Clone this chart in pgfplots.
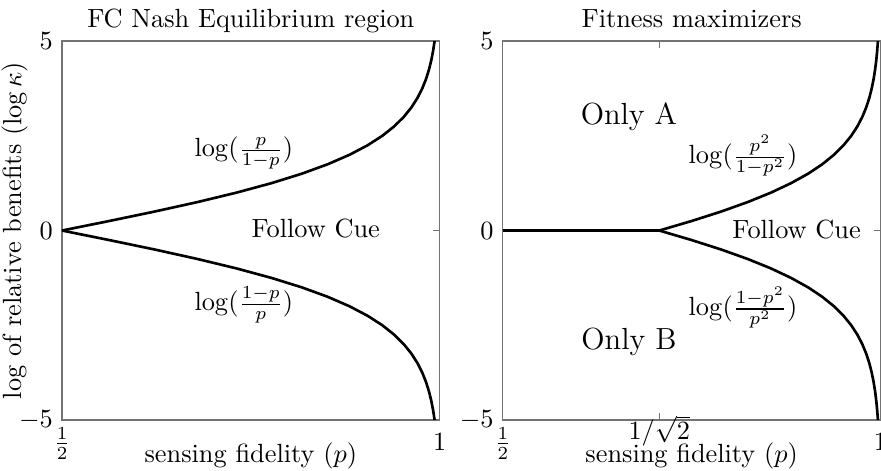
\documentclass[border=0pt]{standalone}
\usepackage{pgfplots}
\pgfplotsset{compat=1.18}
\begin{document}
\begin{tikzpicture}
\pgfplotsset{
  curve/.style={black, line width=1pt, mark=none},
  panel/.style={
    anchor=south west,
    width=143.5pt, height=144pt, scale only axis,
    xmin=0.5, xmax=1, ymin=-5, ymax=5,
    enlargelimits=false,
    axis line style={black!55, line width=0.5pt},
    tick style={black!55, line width=0.4pt},
    major tick length=2.5pt,
    ytick={-5,0,5},
    yticklabels={$-5$,$0$,$5$},
    title style={anchor=base, yshift=-1pt},
    xlabel style={at={(axis description cs:0.5,0)}, anchor=base, yshift=-16.2pt},
    xticklabel style={anchor=base, yshift=-11.4pt},
    clip=false,
  },
}
\begin{axis}[panel, name=L, at={(0,0)},
  title={FC Nash Equilibrium region},
  xlabel={sensing fidelity ($p$)},
  ylabel={log of relative benefits ($\log\kappa$)},
  ylabel style={at={(axis description cs:-0.125,0.5)}, anchor=center},
  xtick={0.5,1}, xticklabels={$\frac{1}{2}$,$1$},
]
\addplot[curve] table[row sep=\\] {
x y\\
0.50000 0\\ 0.56218 0.25\\ 0.62246 0.5\\ 0.67918 0.75\\ 0.73106 1\\
0.77730 1.25\\ 0.81757 1.5\\ 0.85195 1.75\\ 0.88080 2\\ 0.90465 2.25\\
0.92414 2.5\\ 0.93991 2.75\\ 0.95257 3\\ 0.96267 3.25\\ 0.97069 3.5\\
0.97702 3.75\\ 0.98201 4\\ 0.98594 4.25\\ 0.98901 4.5\\ 0.99142 4.75\\
0.99331 5\\
};
\addplot[curve] table[row sep=\\] {
x y\\
0.50000 0\\ 0.56218 -0.25\\ 0.62246 -0.5\\ 0.67918 -0.75\\ 0.73106 -1\\
0.77730 -1.25\\ 0.81757 -1.5\\ 0.85195 -1.75\\ 0.88080 -2\\ 0.90465 -2.25\\
0.92414 -2.5\\ 0.93991 -2.75\\ 0.95257 -3\\ 0.96267 -3.25\\ 0.97069 -3.5\\
0.97702 -3.75\\ 0.98201 -4\\ 0.98594 -4.25\\ 0.98901 -4.5\\ 0.99142 -4.75\\
0.99331 -5\\
};
\node at (axis cs:0.7407,2.04) {$\log(\frac{p}{1-p})$};
\node at (axis cs:0.7407,-1.97) {$\log(\frac{1-p}{p})$};
\node at (axis cs:0.836,0.05) {Follow Cue};
\end{axis}
\begin{axis}[panel, name=R, at={(167.5pt,0)},
  title={Fitness maximizers},
  xlabel={sensing fidelity ($p$)},
  xtick={0.5,0.70711,1},
  xticklabels={$\frac{1}{2}$,\raisebox{4pt}{$1/\sqrt{2}$},$1$},
]
\addplot[curve] table[row sep=\\] {
x y\\
0.50000 0\\ 0.70711 0\\
};
\addplot[curve] table[row sep=\\] {
x y\\
0.70711 0\\ 0.74979 0.25\\ 0.78896 0.5\\ 0.82413 0.75\\ 0.85502 1\\
0.88164 1.25\\ 0.90420 1.5\\ 0.92301 1.75\\ 0.93851 2\\ 0.95113 2.25\\
0.96132 2.5\\ 0.96949 2.75\\ 0.97600 3\\ 0.98116 3.25\\ 0.98524 3.5\\
0.98844 3.75\\ 0.99096 4\\ 0.99295 4.25\\ 0.99449 4.5\\ 0.99570 4.75\\
0.99665 5\\
};
\addplot[curve] table[row sep=\\] {
x y\\
0.70711 0\\ 0.74979 -0.25\\ 0.78896 -0.5\\ 0.82413 -0.75\\ 0.85502 -1\\
0.88164 -1.25\\ 0.90420 -1.5\\ 0.92301 -1.75\\ 0.93851 -2\\ 0.95113 -2.25\\
0.96132 -2.5\\ 0.96949 -2.75\\ 0.97600 -3\\ 0.98116 -3.25\\ 0.98524 -3.5\\
0.98844 -3.75\\ 0.99096 -4\\ 0.99295 -4.25\\ 0.99449 -4.5\\ 0.99570 -4.75\\
0.99665 -5\\
};
\node at (axis cs:0.667,3.0) {\fontsize{11.6}{14}\selectfont Only A};
\node at (axis cs:0.667,-2.94) {\fontsize{11.6}{14}\selectfont Only B};
\node at (axis cs:0.818,1.97) {$\log(\frac{p^2}{1-p^2})$};
\node at (axis cs:0.818,-2.04) {$\log(\frac{1-p^2}{p^2})$};
\node at (axis cs:0.889,0.04) {Follow Cue};
\end{axis}
\pgfresetboundingbox
\useasboundingbox (-23.56pt,-19pt) rectangle (311.2pt,159.6pt);
\end{tikzpicture}
\end{document}
